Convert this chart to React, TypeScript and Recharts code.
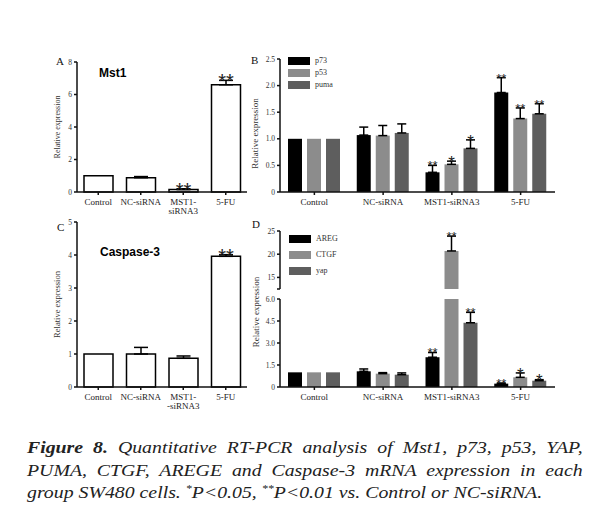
import { BarChart, Bar, XAxis, YAxis, ErrorBar, LabelList, Legend } from 'recharts'

const SERIF = '"Liberation Serif", "Times New Roman", serif'
const SANS = '"Liberation Sans", Arial, sans-serif'

// categories
const groupsA = ['Control', 'NC-siRNA', 'MST1-\nsiRNA3', '5-FU']
const groupsB = ['Control', 'NC-siRNA', 'MST1-siRNA3', '5-FU']
const groupsC = ['Control', 'NC-siRNA', 'MST1-\n-siRNA3', '5-FU']

// panel A - Mst1
const mst1 = [1.0, 0.88, 0.15, 6.6]
const mst1Err = [0, 0.07, 0.05, 0.27]
const mst1Sig = ['', '', '**', '**']

// panel B
const p73 = [1.0, 1.07, 0.37, 1.87]
const p73Err = [0, 0.15, 0.13, 0.28]
const p73Sig = ['', '', '**', '**']
const p53 = [1.0, 1.06, 0.52, 1.38]
const p53Err = [0, 0.19, 0.06, 0.2]
const p53Sig = ['', '', '*', '**']
const puma = [1.0, 1.11, 0.82, 1.47]
const pumaErr = [0, 0.17, 0.16, 0.19]
const pumaSig = ['', '', '*', '**']

// panel C - Caspase-3
const casp3 = [1.0, 1.0, 0.87, 3.96]
const casp3Err = [0, 0.2, 0.07, 0.05]
const casp3Sig = ['', '', '', '**']

// panel D
const areg = [1.0, 1.07, 2.03, 0.23]
const aregErr = [0, 0.16, 0.32, 0.04]
const aregSig = ['', '', '**', '**']
const ctgf = [1.0, 0.91, 20.7, 0.66]
const ctgfErr = [0, 0.07, 3.2, 0.3]
const ctgfSig = ['', '', '**', '*']
const yap = [1.0, 0.84, 4.38, 0.43]
const yapErr = [0, 0.12, 0.71, 0.07]
const yapSig = ['', '', '**', '*']

const ticksA = [0, 2, 4, 6, 8]
const ticksB = [0, 0.5, 1, 1.5, 2, 2.5]
const ticksC = [0, 1, 2, 3, 4, 5]
const ticksDLow = [0, 1.5, 3, 4.5, 6]
const ticksDHigh = [12.5, 15, 20, 25]
const LOWER_MAX = 6
const UPPER_MIN = 12.5

const C_DARK = '#000000'
const C_LIGHT = '#8c8c8c'
const C_MID = '#5e5e5e'

const errPair = (e: number) => (e > 0 ? [0, e] : null)

const rowsA = groupsA.map((g, i) => ({ g, i, v: mst1[i], e: errPair(mst1Err[i]) }))
const rowsC = groupsC.map((g, i) => ({ g, i, v: casp3[i], e: errPair(casp3Err[i]) }))
const rowsB = groupsB.map((g, i) => ({
  g, i,
  p73: p73[i], p73E: errPair(p73Err[i]),
  p53: p53[i], p53E: errPair(p53Err[i]),
  puma: puma[i], pumaE: errPair(pumaErr[i]),
}))
const low = (v: number, e: number) => (v > LOWER_MAX ? null : errPair(e))
const high = (v: number) => (v > LOWER_MAX ? v : null)
const rowsDLow = groupsB.map((g, i) => ({
  g, i,
  areg: areg[i], aregE: low(areg[i], aregErr[i]),
  ctgf: ctgf[i], ctgfE: low(ctgf[i], ctgfErr[i]),
  yap: yap[i], yapE: low(yap[i], yapErr[i]),
}))
const rowsDHigh = groupsB.map((g, i) => ({
  g, i,
  areg: high(areg[i]), aregE: high(areg[i]) ? errPair(aregErr[i]) : null,
  ctgf: high(ctgf[i]), ctgfE: high(ctgf[i]) ? errPair(ctgfErr[i]) : null,
  yap: high(yap[i]), yapE: high(yap[i]) ? errPair(yapErr[i]) : null,
}))

const fmtInt = (v: number) => String(v)
const fmt1 = (v: number) => (v === 0 ? '0' : v.toFixed(1))
const fmtHigh = (v: number) => (v === UPPER_MIN ? '' : String(v))

const axisLine = { stroke: '#111', strokeWidth: 1.5 }
const yTick = { fontSize: 7.5, fill: '#333', fontFamily: SERIF }

function CatTick({ x, y, payload }: any) {
  const lines = String(payload.value).split('\n')
  return (
    <text x={x} y={y} textAnchor="middle" fontSize={9} fontFamily={SERIF} fill="#222">
      {lines.map((l, k) => (
        <tspan key={k} x={x} dy={k === 0 ? 8 : 8.5}>{l}</tspan>
      ))}
    </text>
  )
}

const yTitle = (dx: number, dy: number, fs: number) => (p: any) => {
  const vb = p.viewBox
  if (!vb) return null
  const cx = vb.x + dx
  const cy = vb.y + vb.height / 2 + dy
  return (
    <text x={cx} y={cy} transform={`rotate(-90 ${cx} ${cy})`} textAnchor="middle"
      dominantBaseline="central" fontSize={fs} fontFamily={SERIF} fill="#333">
      Relative expression
    </text>
  )
}

// asterisks sitting on top of the error bar
const stars = (vals: number[], errs: number[], sigs: string[], fs2: number, fs1: number,
  base = 0, lo = -Infinity, hi = Infinity) => (p: any) => {
  const i = Number(p.value)
  const vb = p.viewBox
  const s = sigs[i]
  if (!vb || !s || !(vals[i] > lo) || vals[i] > hi) return null
  const top = Math.min(vb.y, vb.y + vb.height)
  const ppu = Math.abs(vb.height) / (vals[i] - base)
  const errTop = top - errs[i] * ppu
  const fs = s.length > 1 ? fs2 : fs1
  return (
    <text x={vb.x + vb.width / 2} y={errTop + fs * 0.42 - 0.5} textAnchor="middle"
      fontSize={fs} fontFamily={SANS} fill="#222">
      {s}
    </text>
  )
}

const legendBox = (rowH: number) => (p: any) => (
  <div>
    {(p.payload ?? []).map((e: any) => (
      <div key={e.value} style={{ display: 'flex', alignItems: 'center', height: rowH }}>
        <span style={{ display: 'inline-block', width: 22, height: 8, background: e.color }} />
        <span style={{ marginLeft: 5, fontSize: 8, fontFamily: SERIF, color: '#333', lineHeight: 1 }}>{e.value}</span>
      </div>
    ))}
  </div>
)

function SinglePanel({ rows, vals, errs, sigs, ticks, top, height, mt, titleFs }: any) {
  return (
    <div style={{ position: 'absolute', left: 0, top }}>
      <BarChart width={250} height={height} data={rows} margin={{ top: mt, right: 3, bottom: 8, left: 52 }} barSize={29}>
        <XAxis dataKey="g" height={30} interval={0} tick={<CatTick />} tickSize={3}
          tickLine={axisLine} axisLine={axisLine} />
        <YAxis width={25} domain={[ticks[0], ticks[ticks.length - 1]]} ticks={ticks} interval={0}
          tickFormatter={fmtInt} tick={yTick} tickSize={3} tickLine={axisLine} axisLine={axisLine}
          label={yTitle(5, 0, titleFs)} />
        <Bar dataKey="v" fill="#fff" stroke="#000" strokeWidth={1.5} isAnimationActive={false}>
          <ErrorBar dataKey="e" direction="y" width={7} strokeWidth={1.5} stroke="#000" />
          <LabelList dataKey="i" content={stars(vals, errs, sigs, 20, 20)} />
        </Bar>
      </BarChart>
    </div>
  )
}

export default function App() {
  return (
    <div style={{ position: 'absolute', left: 0, top: 0, width: 615, height: 530, background: '#fff' }}>
      <SinglePanel rows={rowsA} vals={mst1} errs={mst1Err} sigs={mst1Sig} ticks={ticksA}
        top={40} height={190} mt={22} titleFs={8} />
      <SinglePanel rows={rowsC} vals={casp3} errs={casp3Err} sigs={casp3Sig} ticks={ticksC}
        top={215} height={210} mt={7} titleFs={8.5} />

      {/* B */}
      <div style={{ position: 'absolute', left: 230, top: 40 }}>
        <BarChart width={335} height={190} data={rowsB} margin={{ top: 19, right: 10, bottom: 8, left: 20 }}
          barSize={14} barGap={5}>
          <XAxis dataKey="g" height={30} interval={0} tick={<CatTick />} tickSize={3}
            tickLine={axisLine} axisLine={axisLine} />
          <YAxis width={30} domain={[0, 2.5]} ticks={ticksB} interval={0} tickFormatter={fmt1} tick={yTick}
            tickSize={3} tickLine={axisLine} axisLine={axisLine} label={yTitle(5, 8, 9)} />
          <Legend layout="vertical" align="center" verticalAlign="middle"
            wrapperStyle={{ left: 58, top: 15, width: 'auto' }} content={legendBox(12)}
            itemSorter={(it: any) => ['p73', 'p53', 'puma'].indexOf(it.value)} />
          <Bar dataKey="p73" name="p73" fill={C_DARK} isAnimationActive={false}>
            <ErrorBar dataKey="p73E" direction="y" width={4.5} strokeWidth={1.5} stroke="#000" />
            <LabelList dataKey="i" content={stars(p73, p73Err, p73Sig, 13, 17)} />
          </Bar>
          <Bar dataKey="p53" name="p53" fill={C_LIGHT} isAnimationActive={false}>
            <ErrorBar dataKey="p53E" direction="y" width={4.5} strokeWidth={1.5} stroke="#000" />
            <LabelList dataKey="i" content={stars(p53, p53Err, p53Sig, 13, 17)} />
          </Bar>
          <Bar dataKey="puma" name="puma" fill={C_MID} isAnimationActive={false}>
            <ErrorBar dataKey="pumaE" direction="y" width={4.5} strokeWidth={1.5} stroke="#000" />
            <LabelList dataKey="i" content={stars(puma, pumaErr, pumaSig, 13, 17)} />
          </Bar>
        </BarChart>
      </div>

      {/* D lower */}
      <div style={{ position: 'absolute', left: 230, top: 215 }}>
        <BarChart width={335} height={210} data={rowsDLow} margin={{ top: 84, right: 10, bottom: 8, left: 20 }}
          barSize={14} barGap={5}>
          <XAxis dataKey="g" height={30} interval={0} tick={<CatTick />} tickSize={3}
            tickLine={axisLine} axisLine={axisLine} />
          <YAxis width={30} domain={[0, LOWER_MAX]} ticks={ticksDLow} interval={0} allowDataOverflow
            tickFormatter={fmt1} tick={yTick} tickSize={3} tickLine={axisLine} axisLine={axisLine}
            label={yTitle(6, -31, 9)} />
          <Bar dataKey="areg" fill={C_DARK} isAnimationActive={false}>
            <ErrorBar dataKey="aregE" direction="y" width={4.5} strokeWidth={1.5} stroke="#000" />
            <LabelList dataKey="i" content={stars(areg, aregErr, aregSig, 13, 17, 0, -Infinity, LOWER_MAX)} />
          </Bar>
          <Bar dataKey="ctgf" fill={C_LIGHT} isAnimationActive={false}>
            <ErrorBar dataKey="ctgfE" direction="y" width={4.5} strokeWidth={1.5} stroke="#000" />
            <LabelList dataKey="i" content={stars(ctgf, ctgfErr, ctgfSig, 13, 17, 0, -Infinity, LOWER_MAX)} />
          </Bar>
          <Bar dataKey="yap" fill={C_MID} isAnimationActive={false}>
            <ErrorBar dataKey="yapE" direction="y" width={4.5} strokeWidth={1.5} stroke="#000" />
            <LabelList dataKey="i" content={stars(yap, yapErr, yapSig, 13, 17, 0, -Infinity, LOWER_MAX)} />
          </Bar>
        </BarChart>
      </div>

      {/* D upper (broken axis) */}
      <div style={{ position: 'absolute', left: 230, top: 215 }}>
        <BarChart width={335} height={80} data={rowsDHigh} margin={{ top: 16, right: 10, bottom: 6, left: 20 }}
          barSize={14} barGap={5}>
          <XAxis dataKey="g" hide />
          <YAxis width={30} domain={[UPPER_MIN, 25]} ticks={ticksDHigh} interval={0} allowDataOverflow
            tickFormatter={fmtHigh} tick={yTick} tickSize={3} tickLine={axisLine} axisLine={axisLine} />
          <Legend layout="vertical" align="center" verticalAlign="middle"
            wrapperStyle={{ left: 59, top: 16, width: 'auto' }} content={legendBox(16)}
            itemSorter={(it: any) => ['AREG', 'CTGF', 'yap'].indexOf(it.value)} />
          <Bar dataKey="areg" name="AREG" fill={C_DARK} isAnimationActive={false}>
            <ErrorBar dataKey="aregE" direction="y" width={4.5} strokeWidth={1.5} stroke="#000" />
            <LabelList dataKey="i" content={stars(areg, aregErr, aregSig, 13, 17, UPPER_MIN, LOWER_MAX)} />
          </Bar>
          <Bar dataKey="ctgf" name="CTGF" fill={C_LIGHT} isAnimationActive={false}>
            <ErrorBar dataKey="ctgfE" direction="y" width={4.5} strokeWidth={1.5} stroke="#000" />
            <LabelList dataKey="i" content={stars(ctgf, ctgfErr, ctgfSig, 13, 17, UPPER_MIN, LOWER_MAX)} />
          </Bar>
          <Bar dataKey="yap" name="yap" fill={C_MID} isAnimationActive={false}>
            <ErrorBar dataKey="yapE" direction="y" width={4.5} strokeWidth={1.5} stroke="#000" />
            <LabelList dataKey="i" content={stars(yap, yapErr, yapSig, 13, 17, UPPER_MIN, LOWER_MAX)} />
          </Bar>
        </BarChart>
      </div>

      {/* panel letters and gene titles */}
      <svg width={615} height={530} style={{ position: 'absolute', left: 0, top: 0, pointerEvents: 'none' }}>
        <g fontFamily={SERIF} fontSize={11} fill="#111">
          <text x={56} y={65}>A</text>
          <text x={251} y={64}>B</text>
          <text x={57} y={231}>C</text>
          <text x={252} y={228}>D</text>
        </g>
        <g fontFamily={SANS} fontSize={12} fontWeight="bold" fill="#000">
          <text x={99} y={77}>Mst1</text>
          <text x={100} y={256}>Caspase-3</text>
        </g>
      </svg>

      <div style={{
        position: 'absolute', left: 27, top: 437, width: 463, fontFamily: SERIF, fontStyle: 'italic',
        fontSize: 16.5, lineHeight: '22.6px', color: '#222', transform: 'scaleX(1.2)', transformOrigin: 'left top',
      }}>
        <div style={{ textAlign: 'justify', textAlignLast: 'justify', whiteSpace: 'nowrap' }}>
          <b>Figure 8.</b> Quantitative RT-PCR analysis of Mst1, p73, p53, YAP,
        </div>
        <div style={{ textAlign: 'justify', textAlignLast: 'justify', whiteSpace: 'nowrap' }}>
          PUMA, CTGF, AREGE and Caspase-3 mRNA expression in each
        </div>
        <div style={{ whiteSpace: 'nowrap' }}>
          group SW480 cells. <span style={{ verticalAlign: 'super', fontSize: 10, lineHeight: 0 }}>*</span>P&lt;0.05,{' '}
          <span style={{ verticalAlign: 'super', fontSize: 10, lineHeight: 0 }}>**</span>P&lt;0.01 vs. Control or NC-siRNA.
        </div>
      </div>
    </div>
  )
}
